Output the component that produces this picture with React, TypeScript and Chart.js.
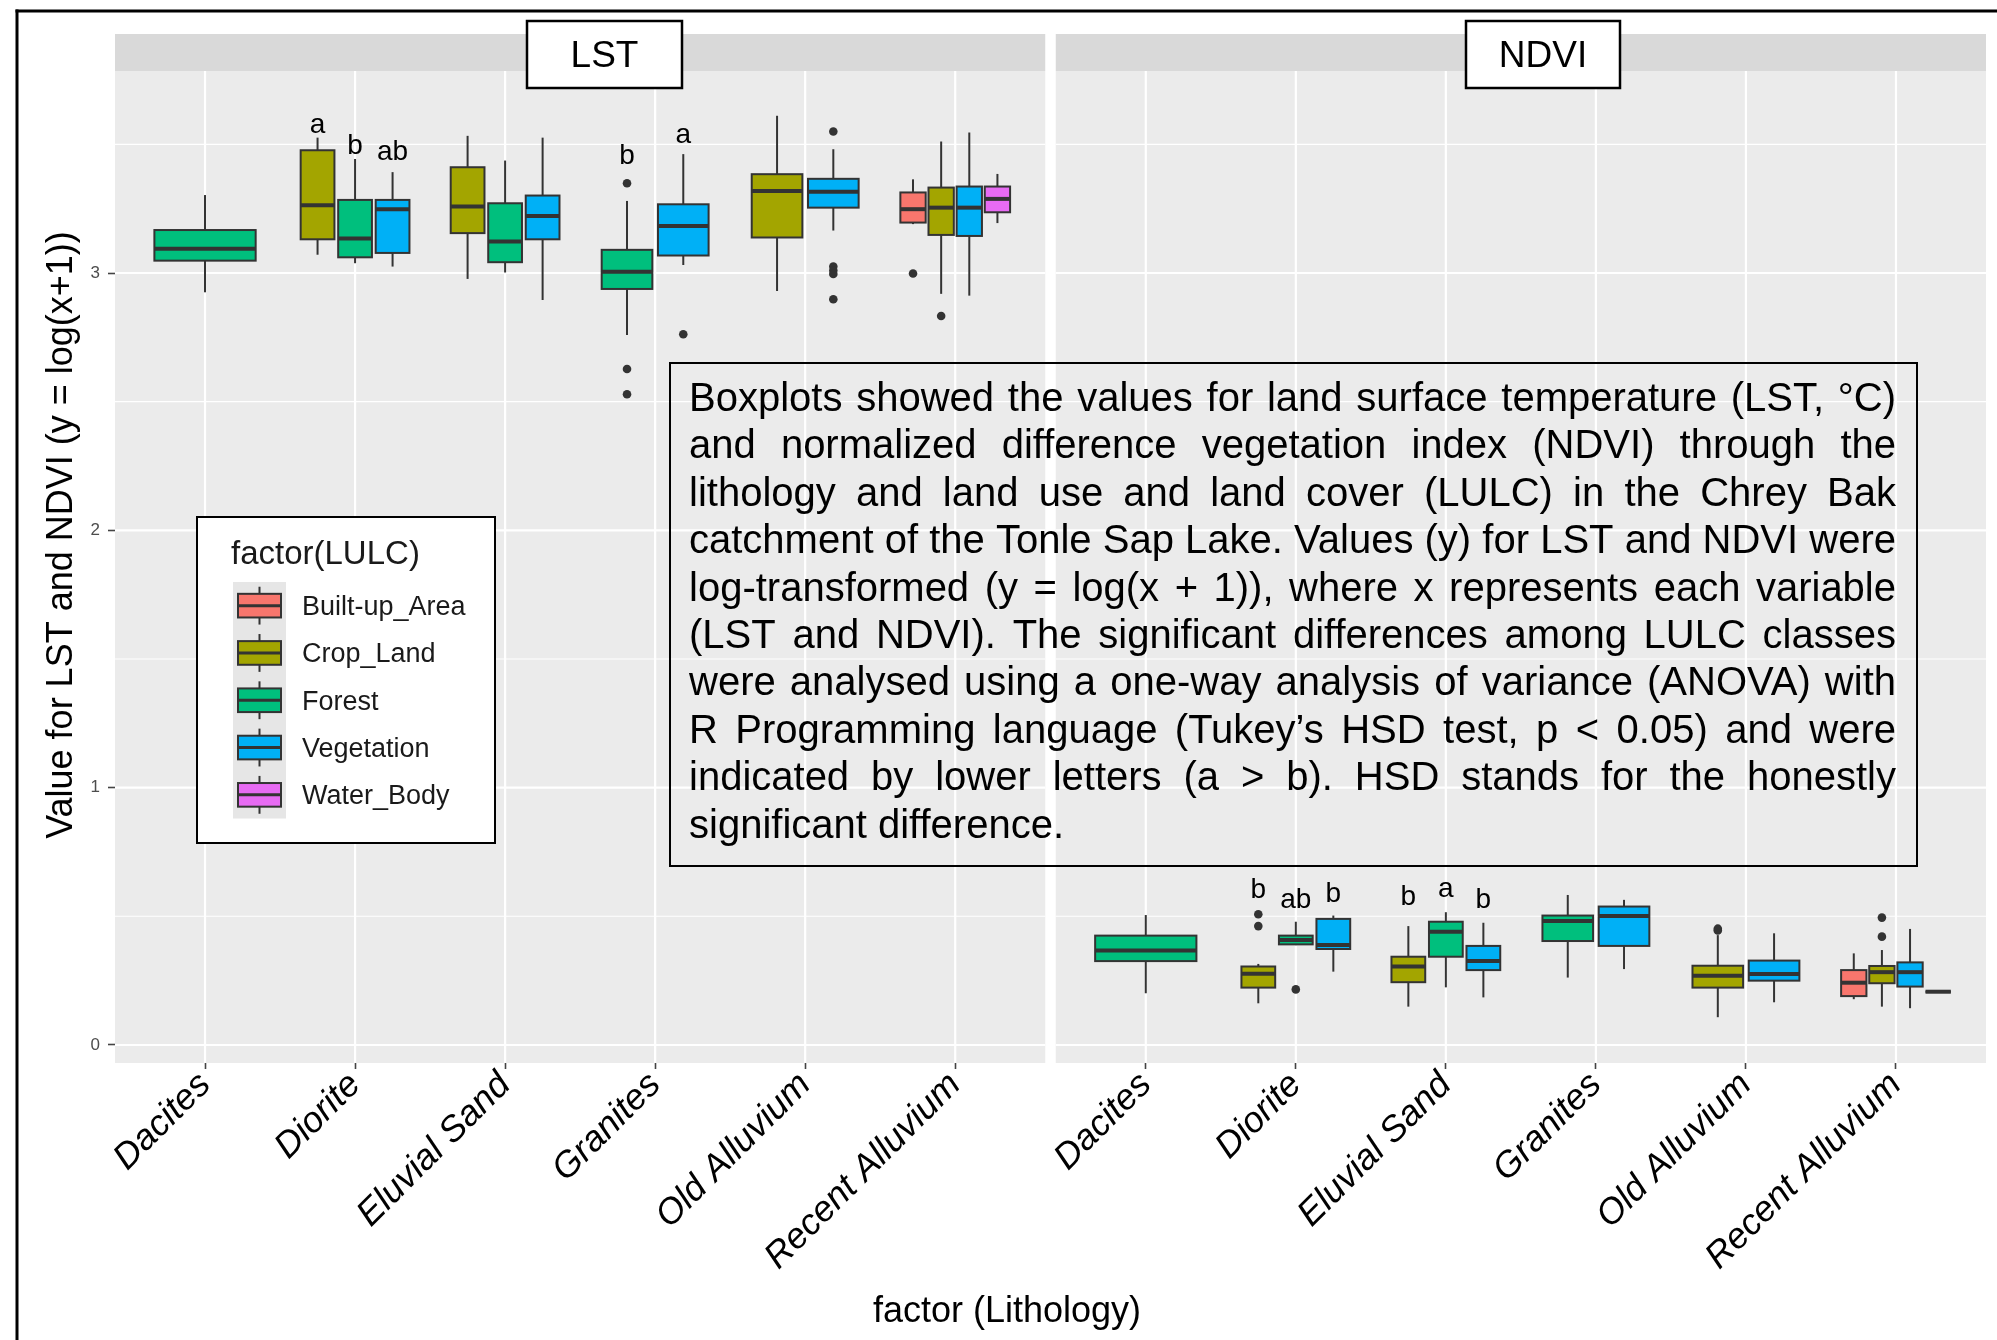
import React, { useEffect, useRef } from "react";
import { Chart, registerables } from "chart.js";

Chart.register(...registerables);

// ---------------- data ----------------
const facets = ["LST", "NDVI"];
const lithology = ["Dacites", "Diorite", "Eluvial Sand", "Granites", "Old Alluvium", "Recent Alluvium"];
const lulcClasses = ["Built-up_Area", "Crop_Land", "Forest", "Vegetation", "Water_Body"];
const lulcColors = ["#F8766D", "#A3A500", "#00BF7D", "#00B0F6", "#E76BF3"];
const yTicks = [0, 1, 2, 3];
const yMinorTicks = [0.5, 1.5, 2.5, 3.5];

// [lithology, LULC, lower whisker, Q1, median, Q3, upper whisker]
type Box = [string, string, number, number, number, number, number];
const lstBoxes: Box[] = [
  ["Dacites", "Forest", 2.925, 3.048, 3.094, 3.167, 3.303],
  ["Diorite", "Crop_Land", 3.071, 3.131, 3.263, 3.477, 3.526],
  ["Diorite", "Forest", 3.038, 3.061, 3.134, 3.284, 3.443],
  ["Diorite", "Vegetation", 3.025, 3.078, 3.248, 3.284, 3.392],
  ["Eluvial Sand", "Crop_Land", 2.977, 3.155, 3.258, 3.411, 3.533],
  ["Eluvial Sand", "Forest", 3.002, 3.042, 3.122, 3.271, 3.437],
  ["Eluvial Sand", "Vegetation", 2.895, 3.131, 3.222, 3.301, 3.526],
  ["Granites", "Forest", 2.759, 2.938, 3.005, 3.09, 3.28],
  ["Granites", "Vegetation", 3.031, 3.068, 3.183, 3.267, 3.462],
  ["Old Alluvium", "Crop_Land", 2.93, 3.138, 3.319, 3.384, 3.611],
  ["Old Alluvium", "Vegetation", 3.165, 3.254, 3.316, 3.366, 3.481],
  ["Recent Alluvium", "Built-up_Area", 3.19, 3.196, 3.248, 3.313, 3.364],
  ["Recent Alluvium", "Crop_Land", 2.919, 3.148, 3.254, 3.332, 3.511],
  ["Recent Alluvium", "Vegetation", 2.912, 3.144, 3.254, 3.336, 3.546],
  ["Recent Alluvium", "Water_Body", 3.194, 3.236, 3.288, 3.336, 3.385],
];
const ndviBoxes: Box[] = [
  ["Dacites", "Forest", 0.201, 0.326, 0.367, 0.425, 0.505],
  ["Diorite", "Crop_Land", 0.162, 0.223, 0.277, 0.305, 0.315],
  ["Diorite", "Forest", 0.388, 0.391, 0.408, 0.425, 0.479],
  ["Diorite", "Vegetation", 0.285, 0.373, 0.389, 0.49, 0.503],
  ["Eluvial Sand", "Crop_Land", 0.149, 0.244, 0.305, 0.343, 0.462],
  ["Eluvial Sand", "Forest", 0.224, 0.343, 0.44, 0.479, 0.516],
  ["Eluvial Sand", "Vegetation", 0.185, 0.291, 0.326, 0.385, 0.475],
  ["Granites", "Forest", 0.262, 0.404, 0.482, 0.503, 0.583],
  ["Granites", "Vegetation", 0.295, 0.385, 0.501, 0.538, 0.564],
  ["Old Alluvium", "Crop_Land", 0.108, 0.223, 0.269, 0.308, 0.427],
  ["Old Alluvium", "Vegetation", 0.166, 0.25, 0.276, 0.328, 0.434],
  ["Recent Alluvium", "Built-up_Area", 0.178, 0.19, 0.242, 0.291, 0.356],
  ["Recent Alluvium", "Crop_Land", 0.149, 0.24, 0.283, 0.307, 0.369],
  ["Recent Alluvium", "Vegetation", 0.143, 0.227, 0.283, 0.321, 0.451],
  ["Recent Alluvium", "Water_Body", 0.207, 0.207, 0.207, 0.207, 0.207],
];

// [lithology, LULC, outlier value]
type Outlier = [string, string, number];
const lstOutliers: Outlier[] = [
  ["Granites", "Forest", 3.349],
  ["Granites", "Forest", 2.627],
  ["Granites", "Forest", 2.529],
  ["Granites", "Vegetation", 2.762],
  ["Old Alluvium", "Vegetation", 3.55],
  ["Old Alluvium", "Vegetation", 3.025],
  ["Old Alluvium", "Vegetation", 3.01],
  ["Old Alluvium", "Vegetation", 2.996],
  ["Old Alluvium", "Vegetation", 2.898],
  ["Recent Alluvium", "Built-up_Area", 2.998],
  ["Recent Alluvium", "Crop_Land", 2.833],
];
const ndviOutliers: Outlier[] = [
  ["Diorite", "Crop_Land", 0.508],
  ["Diorite", "Crop_Land", 0.462],
  ["Diorite", "Forest", 0.216],
  ["Old Alluvium", "Crop_Land", 0.445],
  ["Old Alluvium", "Crop_Land", 0.452],
  ["Recent Alluvium", "Crop_Land", 0.495],
  ["Recent Alluvium", "Crop_Land", 0.421],
];

// [lithology, LULC, letter, y value of baseline]
type Letter = [string, string, string, number];
const lstLetters: Letter[] = [
  ["Diorite", "Crop_Land", "a", 3.543],
  ["Diorite", "Forest", "b", 3.463],
  ["Diorite", "Vegetation", "ab", 3.44],
  ["Granites", "Forest", "b", 3.424],
  ["Granites", "Vegetation", "a", 3.504],
];
const ndviLetters: Letter[] = [
  ["Diorite", "Crop_Land", "b", 0.57],
  ["Diorite", "Forest", "ab", 0.531],
  ["Diorite", "Vegetation", "b", 0.557],
  ["Eluvial Sand", "Crop_Land", "b", 0.544],
  ["Eluvial Sand", "Forest", "a", 0.576],
  ["Eluvial Sand", "Vegetation", "b", 0.534],
];

const noteLines = [
  "Boxplots showed the values for land surface temperature (LST, °C)",
  "and normalized difference vegetation index (NDVI) through the",
  "lithology and land use and land cover (LULC) in the Chrey Bak",
  "catchment of the Tonle Sap Lake. Values (y) for LST and NDVI were",
  "log-transformed (y = log(x + 1)), where x represents each variable",
  "(LST and NDVI). The significant differences among LULC classes",
  "were analysed using a one-way analysis of variance (ANOVA) with",
  "R Programming language (Tukey’s HSD test, p < 0.05) and were",
  "indicated by lower letters (a > b). HSD stands for the honestly",
  "significant difference.",
];
const xTitle = "factor (Lithology)";
const yTitle = "Value for LST and NDVI (y = log(x+1))";
const legendTitle = "factor(LULC)";

// ---------------- layout constants ----------------
const W = 1997;
const H = 1340;
const FONT = '"Liberation Sans", Arial, Helvetica, sans-serif';
const PANEL_SPAN = 6.2;
const PANEL_GAP = 0.07;
const PANEL_START = [0.4, 0.4 + PANEL_SPAN + PANEL_GAP];
const DODGE_WIDTH = 0.75;
const DODGE_PADDING = 0.1;
const Y_MIN = -0.07;
const Y_MAX = 3.785;
const STRIP_TOP = 34;
const LINE = "#333333";

const panelBoxes = [lstBoxes, ndviBoxes];
const panelOutliers = [lstOutliers, ndviOutliers];
const panelLetters = [lstLetters, ndviLetters];

function catValue(panel: number, lith: string) {
  return PANEL_START[panel] + 0.6 + lithology.indexOf(lith);
}
function dodge(panel: number, lith: string, cls: string) {
  const boxes = panelBoxes[panel];
  const present = lulcClasses.filter((c) => boxes.some((b) => b[0] === lith && b[1] === c));
  const n = present.length;
  const i = present.indexOf(cls);
  const slot = DODGE_WIDTH / n;
  return {
    center: catValue(panel, lith) + (i - (n - 1) / 2) * slot,
    half: (slot * (1 - DODGE_PADDING)) / 2,
  };
}
const tickValues: number[] = [];
const tickLabels: string[] = [];
facets.forEach((_, p) =>
  lithology.forEach((l) => {
    tickValues.push(catValue(p, l));
    tickLabels.push(l);
  })
);

function hline(ctx: CanvasRenderingContext2D, x0: number, x1: number, y: number) {
  ctx.beginPath();
  ctx.moveTo(x0, y);
  ctx.lineTo(x1, y);
  ctx.stroke();
}
function vline(ctx: CanvasRenderingContext2D, x: number, y0: number, y1: number) {
  ctx.beginPath();
  ctx.moveTo(x, y0);
  ctx.lineTo(x, y1);
  ctx.stroke();
}

function drawJustified(ctx: CanvasRenderingContext2D, text: string, left: number, base: number, width: number, justify: boolean) {
  const words = text.split(" ");
  ctx.textAlign = "left";
  if (!justify || words.length < 2) {
    ctx.fillText(text, left, base);
    return;
  }
  const widths = words.map((w) => ctx.measureText(w).width);
  const total = widths.reduce((a, b) => a + b, 0);
  const gap = (width - total) / (words.length - 1);
  let cx = left;
  words.forEach((w, i) => {
    ctx.fillText(w, cx, base);
    cx += widths[i] + gap;
  });
}

const facetPlugin = {
  id: "facetPlugin",
  beforeDraw(chart: any) {
    const { ctx, chartArea } = chart;
    const xs = chart.scales.x;
    const ys = chart.scales.y;
    ctx.save();
    ctx.fillStyle = "#FFFFFF";
    ctx.fillRect(0, 0, chart.width, chart.height);
    for (let p = 0; p < facets.length; p++) {
      const x0 = xs.getPixelForValue(PANEL_START[p]);
      const x1 = xs.getPixelForValue(PANEL_START[p] + PANEL_SPAN);
      ctx.fillStyle = "#EBEBEB";
      ctx.fillRect(x0, chartArea.top, x1 - x0, chartArea.bottom - chartArea.top);
      ctx.fillStyle = "#D9D9D9";
      ctx.fillRect(x0, STRIP_TOP, x1 - x0, chartArea.top - STRIP_TOP);
      ctx.strokeStyle = "#FFFFFF";
      ctx.lineWidth = 1.1;
      yMinorTicks.forEach((v) => hline(ctx, x0, x1, ys.getPixelForValue(v)));
      ctx.lineWidth = 2.2;
      yTicks.forEach((v) => hline(ctx, x0, x1, ys.getPixelForValue(v)));
      lithology.forEach((l) => vline(ctx, xs.getPixelForValue(catValue(p, l)), chartArea.top, chartArea.bottom));
    }
    // figure frame
    ctx.fillStyle = "#000000";
    ctx.fillRect(15.5, 9.5, chart.width, 3);
    ctx.fillRect(15.5, 9.5, 3, chart.height);
    ctx.restore();
  },
  beforeDatasetsDraw(chart: any) {
    const { ctx } = chart;
    const xs = chart.scales.x;
    const ys = chart.scales.y;
    ctx.save();
    panelBoxes.forEach((boxes, p) => {
      boxes.forEach((b) => {
        const [lith, cls, lo, q1, med, q3, hi] = b;
        const d = dodge(p, lith, cls);
        const cx = xs.getPixelForValue(d.center);
        const xl = xs.getPixelForValue(d.center - d.half);
        const xr = xs.getPixelForValue(d.center + d.half);
        const pLo = ys.getPixelForValue(lo);
        const pQ1 = ys.getPixelForValue(q1);
        const pMed = ys.getPixelForValue(med);
        const pQ3 = ys.getPixelForValue(q3);
        const pHi = ys.getPixelForValue(hi);
        ctx.strokeStyle = LINE;
        ctx.lineWidth = 2;
        vline(ctx, cx, pQ3, pHi);
        vline(ctx, cx, pQ1, pLo);
        ctx.fillStyle = lulcColors[lulcClasses.indexOf(cls)];
        ctx.fillRect(xl, pQ3, xr - xl, pQ1 - pQ3);
        ctx.strokeRect(xl, pQ3, xr - xl, pQ1 - pQ3);
        ctx.lineWidth = 4;
        hline(ctx, xl, xr, pMed);
      });
    });
    ctx.restore();
  },
  afterDraw(chart: any) {
    const { ctx } = chart;
    const xs = chart.scales.x;
    const ys = chart.scales.y;
    ctx.save();
    // significance letters
    ctx.fillStyle = "#000000";
    ctx.font = `28px ${FONT}`;
    ctx.textAlign = "center";
    ctx.textBaseline = "alphabetic";
    panelLetters.forEach((letters, p) =>
      letters.forEach(([lith, cls, txt, v]) => {
        const d = dodge(p, lith, cls);
        ctx.fillText(txt, xs.getPixelForValue(d.center), ys.getPixelForValue(v));
      })
    );

    // strip labels (boxed)
    const strips = [
      { x: 527, w: 155 },
      { x: 1466, w: 154 },
    ];
    facets.forEach((f, i) => {
      const s = strips[i];
      ctx.fillStyle = "#FFFFFF";
      ctx.fillRect(s.x, 21, s.w, 67);
      ctx.strokeStyle = "#000000";
      ctx.lineWidth = 2.5;
      ctx.strokeRect(s.x, 21, s.w, 67);
      ctx.fillStyle = "#000000";
      ctx.font = `37px ${FONT}`;
      ctx.textAlign = "center";
      ctx.fillText(f, s.x + s.w / 2, 67);
    });

    // axis titles
    ctx.fillStyle = "#000000";
    ctx.font = `36px ${FONT}`;
    ctx.textAlign = "center";
    ctx.fillText(xTitle, 1007, 1322);
    ctx.save();
    ctx.translate(72, 535);
    ctx.rotate(-Math.PI / 2);
    ctx.fillText(yTitle, 0, 0);
    ctx.restore();

    // legend
    const lgX = 197, lgY = 517, lgW = 298, lgH = 326;
    ctx.fillStyle = "#FFFFFF";
    ctx.fillRect(lgX, lgY, lgW, lgH);
    ctx.strokeStyle = "#000000";
    ctx.lineWidth = 2;
    ctx.strokeRect(lgX, lgY, lgW, lgH);
    ctx.fillStyle = "#1A1A1A";
    ctx.font = `33px ${FONT}`;
    ctx.textAlign = "left";
    ctx.fillText(legendTitle, 231, 564);
    const rowH = 47.3;
    const firstRow = 582;
    ctx.fillStyle = "#E6E6E6";
    ctx.fillRect(233, firstRow, 53, rowH * lulcClasses.length);
    lulcClasses.forEach((c, k) => {
      const cy = firstRow + rowH * (k + 0.5);
      ctx.strokeStyle = LINE;
      ctx.lineWidth = 2;
      vline(ctx, 259.5, cy - rowH * 0.4, cy - rowH * 0.25);
      vline(ctx, 259.5, cy + rowH * 0.25, cy + rowH * 0.4);
      ctx.fillStyle = lulcColors[k];
      ctx.fillRect(238, cy - rowH * 0.25, 43, rowH * 0.5);
      ctx.strokeRect(238, cy - rowH * 0.25, 43, rowH * 0.5);
      ctx.lineWidth = 3;
      hline(ctx, 238, 281, cy);
      ctx.fillStyle = "#1A1A1A";
      ctx.font = `27px ${FONT}`;
      ctx.fillText(c, 302, cy + 9.5);
    });

    // note box (transparent)
    const nX = 670, nY = 363, nW = 1247, nH = 503;
    ctx.strokeStyle = "#000000";
    ctx.lineWidth = 2;
    ctx.strokeRect(nX, nY, nW, nH);
    const textLeft = 689;
    const textWidth = 1207;
    let size = 40;
    ctx.font = `${size}px ${FONT}`;
    const maxNatural = Math.max(...noteLines.slice(0, -1).map((l) => ctx.measureText(l).width));
    if (maxNatural > textWidth) size = (size * textWidth) / maxNatural;
    ctx.font = `${size}px ${FONT}`;
    ctx.fillStyle = "#000000";
    noteLines.forEach((l, i) => drawJustified(ctx, l, textLeft, 411 + 47.4 * i, textWidth, i < noteLines.length - 1));
    ctx.restore();
  },
};

export default function App() {
  const ref = useRef<HTMLCanvasElement>(null);
  useEffect(() => {
    document.body.style.margin = "0";
    const canvas = ref.current;
    if (!canvas) return;
    const datasets = panelOutliers.map((outs, p) => ({
      label: `${facets[p]} outliers`,
      data: outs.map(([lith, cls, v]) => ({ x: dodge(p, lith, cls).center, y: v })),
      pointRadius: 4.3,
      pointBackgroundColor: "#333333",
      pointBorderWidth: 0,
      showLine: false,
    }));
    const chart = new Chart(canvas, {
      type: "scatter",
      data: { datasets },
      options: {
        animation: false,
        responsive: false,
        devicePixelRatio: 1,
        events: [],
        layout: { padding: { top: 71, right: 11, left: 0, bottom: 0 } },
        plugins: { legend: { display: false }, tooltip: { enabled: false } },
        scales: {
          x: {
            type: "linear",
            min: PANEL_START[0],
            max: PANEL_START[1] + PANEL_SPAN,
            afterBuildTicks: (s: any) => {
              s.ticks = tickValues.map((v) => ({ value: v }));
            },
            afterFit: (s: any) => {
              s.height = H - 1063;
            },
            ticks: {
              autoSkip: false,
              minRotation: 45,
              maxRotation: 45,
              padding: -5,
              color: "#000000",
              font: { family: FONT, size: 36, style: "italic" },
              callback: (_v: any, i: number) => tickLabels[i],
            },
            grid: { drawOnChartArea: false, drawTicks: true, tickLength: 6, tickColor: "#444444", tickWidth: 1.6 },
            border: { display: false },
          },
          y: {
            type: "linear",
            min: Y_MIN,
            max: Y_MAX,
            afterBuildTicks: (s: any) => {
              s.ticks = yTicks.map((v) => ({ value: v }));
            },
            afterFit: (s: any) => {
              s.width = 115;
            },
            ticks: { color: "#4D4D4D", font: { family: FONT, size: 17 }, padding: 8 },
            grid: { drawOnChartArea: false, drawTicks: true, tickLength: 7, tickColor: "#444444", tickWidth: 1.6 },
            border: { display: false },
          },
        },
      },
      plugins: [facetPlugin],
    } as any);
    return () => chart.destroy();
  }, []);
  return (
    <div style={{ position: "absolute", left: 0, top: 0, width: W, height: H, overflow: "hidden" }}>
      <canvas ref={ref} width={W} height={H} style={{ width: W, height: H, display: "block" }} />
    </div>
  );
}
